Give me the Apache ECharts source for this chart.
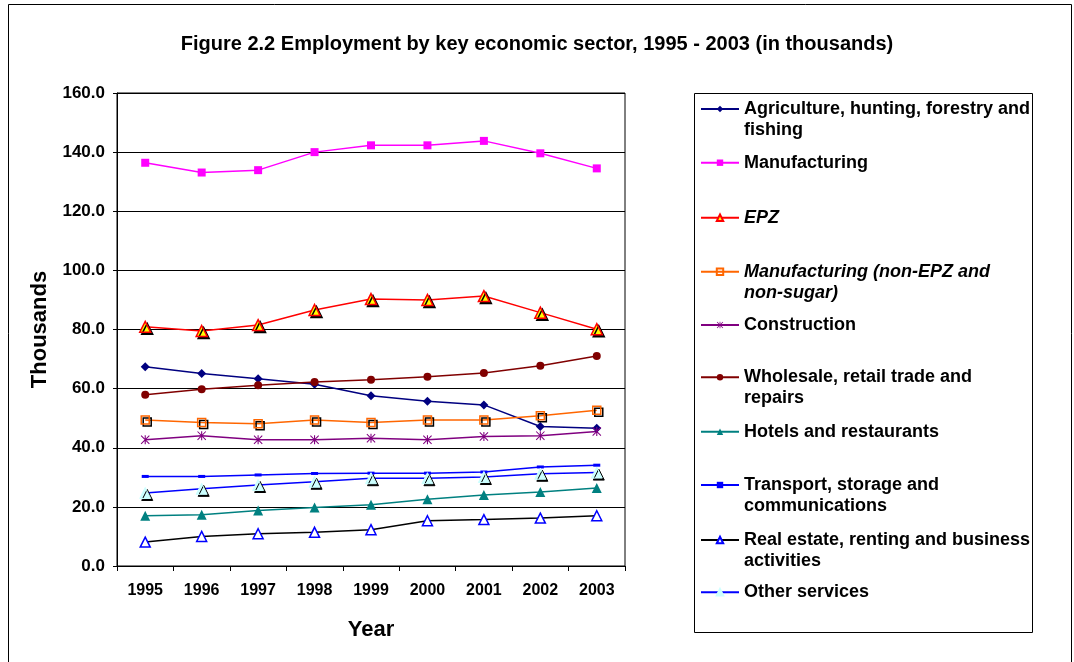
<!DOCTYPE html>
<html>
<head>
<meta charset="utf-8">
<script src="https://cdn.jsdelivr.net/npm/echarts@6/dist/echarts.min.js"></script>
<style>
  html, body { margin: 0; padding: 0; background: #ffffff; }
  #chart { width: 1074px; height: 662px; }
</style>
</head>
<body>
<div id="chart"></div>
<script>
// Employment by key economic sector, 1995 - 2003 (thousands)
const years = ['1995', '1996', '1997', '1998', '1999', '2000', '2001', '2002', '2003'];
const yTicks = [0, 20, 40, 60, 80, 100, 120, 140, 160];

const agriculture = [67.4, 65.1, 63.3, 61.5, 57.6, 55.7, 54.5, 47.2, 46.6];
const manufacturing = [136.4, 133.1, 133.9, 140.0, 142.3, 142.3, 143.8, 139.6, 134.5];
const epz = [80.9, 79.5, 81.5, 86.6, 90.3, 90.0, 91.3, 85.7, 80.1];
const manufNonEpz = [49.4, 48.5, 48.1, 49.4, 48.5, 49.4, 49.4, 50.8, 52.7];
const construction = [42.7, 44.1, 42.7, 42.7, 43.2, 42.7, 43.8, 44.1, 45.5];
const wholesale = [57.9, 59.8, 61.1, 62.2, 63.0, 64.0, 65.3, 67.7, 71.0];
const hotels = [17.0, 17.3, 18.8, 19.8, 20.7, 22.6, 24.0, 25.0, 26.4];
const transport = [30.3, 30.3, 30.8, 31.3, 31.4, 31.4, 31.8, 33.5, 34.1];
const realEstate = [8.1, 10.0, 10.9, 11.4, 12.3, 15.3, 15.7, 16.2, 17.0];
const otherServices = [24.7, 26.1, 27.4, 28.5, 29.7, 29.7, 30.1, 31.2, 31.6];

const seriesNames = [
  'Agriculture, hunting, forestry and fishing',
  'Manufacturing',
  'EPZ',
  'Manufacturing (non-EPZ and non-sugar)',
  'Construction',
  'Wholesale, retail trade and repairs',
  'Hotels and restaurants',
  'Transport, storage and communications',
  'Real estate, renting and business activities',
  'Other services'
];
// legend text with its line breaks
const legendLabels = [
  'Agriculture, hunting, forestry and\nfishing',
  'Manufacturing',
  'EPZ',
  'Manufacturing (non-EPZ and\nnon-sugar)',
  'Construction',
  'Wholesale, retail trade and\nrepairs',
  'Hotels and restaurants',
  'Transport, storage and\ncommunications',
  'Real estate, renting and business\nactivities',
  'Other services'
];
const seriesValues = [agriculture, manufacturing, epz, manufNonEpz, construction,
  wholesale, hotels, transport, realEstate, otherServices];

const FONT = '"Liberation Sans", Arial, sans-serif';
const STAR = 'path://M4.4 0H5.6V10H4.4Z M0 0.8L0.8 0L10 9.2L9.2 10Z M9.2 0L10 0.8L0.8 10L0 9.2Z';

// per-series look: line colour, marker and marker style
const looks = [
  { line: '#000080', symbol: 'diamond', size: 9, fill: '#000080' },
  { line: '#FF00FF', symbol: 'rect', size: 8, fill: '#FF00FF' },
  { line: '#FF0000', symbol: 'triangle', size: 11, fill: '#FFFF00', border: '#FF0000', bw: 1.5, shadow: true },
  { line: '#FF6600', symbol: 'rect', size: 8, fill: 'rgba(0,0,0,0)', border: '#FF6600', bw: 1.5, shadow: true },
  { line: '#800080', symbol: STAR, size: 9, fill: '#800080' },
  { line: '#800000', symbol: 'circle', size: 8, fill: '#800000' },
  { line: '#008080', symbol: 'triangle', size: 10, fill: '#008080' },
  { line: '#0000FF', symbol: 'rect', size: [7, 3], fill: '#0000FF' },
  { line: '#000000', symbol: 'triangle', size: 10, fill: '#FFFFFF', border: '#0000FF', bw: 1.5 },
  { line: '#0000FF', symbol: 'triangle', size: 11, fill: '#CCFFFF', border: '#CCFFFF', bw: 1, shadow: true }
];

const series = seriesNames.map((name, i) => {
  const lk = looks[i];
  const itemStyle = { color: lk.fill, borderColor: lk.border || lk.fill, borderWidth: lk.bw || 0, opacity: 1 };
  if (lk.shadow) {
    itemStyle.shadowColor = '#000000';
    itemStyle.shadowBlur = 0;
    itemStyle.shadowOffsetX = 2;
    itemStyle.shadowOffsetY = 2;
  }
  return {
    name: name,
    type: 'line',
    data: seriesValues[i],
    symbol: lk.symbol,
    symbolSize: lk.size,
    showAllSymbol: true,
    lineStyle: { color: lk.line, width: 1.5 },
    itemStyle: itemStyle,
    emphasis: { disabled: true },
    animation: false
  };
});

// legend entries: icon centre heights inside the legend box
const legendRowY = [109, 162.7, 217.7, 271.7, 325, 377.3, 431.7, 485, 540, 592.3];
const LINE_H = 21;
const legends = seriesNames.map((name, i) => {
  const twoLines = legendLabels[i].indexOf('\n') >= 0;
  const italic = (i === 2 || i === 3);
  // a leading empty line keeps the icon level with the first text line
  const label = twoLines ? '\n' + legendLabels[i] : legendLabels[i];
  return {
    show: true,
    orient: 'vertical',
    left: 700,
    top: twoLines ? legendRowY[i] - LINE_H * 1.5 : legendRowY[i] - LINE_H / 2,
    padding: 0,
    itemWidth: 38,
    itemHeight: 8,
    itemGap: 0,
    selectedMode: false,
    data: [name],
    formatter: () => label,
    textStyle: {
      fontFamily: FONT,
      fontWeight: 'bold',
      fontStyle: italic ? 'italic' : 'normal',
      fontSize: 18,
      color: '#000000',
      lineHeight: LINE_H
    }
  };
});

const chart = echarts.init(document.getElementById('chart'), null, { renderer: 'canvas' });
chart.setOption({
  backgroundColor: '#ffffff',
  animation: false,
  title: {
    text: 'Figure 2.2 Employment by key economic sector, 1995 - 2003 (in thousands)',
    left: 'center',
    top: 34,
    padding: 0,
    textStyle: { fontFamily: FONT, fontWeight: 'bold', fontSize: 20, color: '#000000' }
  },
  graphic: [
    { type: 'rect', shape: { x: 8.5, y: 4.5, width: 1063, height: 700 }, style: { fill: 'none', stroke: '#000000', lineWidth: 1 }, z: -1 },
    { type: 'rect', shape: { x: 694.5, y: 93.5, width: 338, height: 539 }, style: { fill: 'none', stroke: '#000000', lineWidth: 1 }, z: -1 }
  ],
  legend: legends,
  grid: { left: 117, top: 93, width: 508, height: 473, show: true, borderColor: '#000000', borderWidth: 1, backgroundColor: 'transparent' },
  xAxis: {
    type: 'category',
    data: years,
    boundaryGap: true,
    name: 'Year',
    nameLocation: 'middle',
    nameGap: 53,
    nameTextStyle: { fontFamily: FONT, fontWeight: 'bold', fontSize: 22, color: '#000000' },
    axisLine: { lineStyle: { color: '#000000', width: 1 } },
    axisTick: { show: true, length: 5, inside: false, alignWithLabel: false, lineStyle: { color: '#000000' } },
    axisLabel: { fontFamily: FONT, fontWeight: 'bold', fontSize: 16, color: '#000000', margin: 17 },
    splitLine: { show: false }
  },
  yAxis: {
    type: 'value',
    min: yTicks[0],
    max: yTicks[yTicks.length - 1],
    interval: 20,
    name: 'Thousands',
    nameLocation: 'middle',
    nameGap: 66,
    nameRotate: 90,
    nameTextStyle: { fontFamily: FONT, fontWeight: 'bold', fontSize: 22, color: '#000000' },
    axisLine: { show: true, lineStyle: { color: '#000000', width: 1 } },
    axisTick: { show: true, length: 4, inside: false, lineStyle: { color: '#000000' } },
    axisLabel: { fontFamily: FONT, fontWeight: 'bold', fontSize: 17, color: '#000000', margin: 12, formatter: v => v.toFixed(1) },
    splitLine: { show: true, lineStyle: { color: '#000000', width: 1 } }
  },
  series: series
});
</script>
</body>
</html>
